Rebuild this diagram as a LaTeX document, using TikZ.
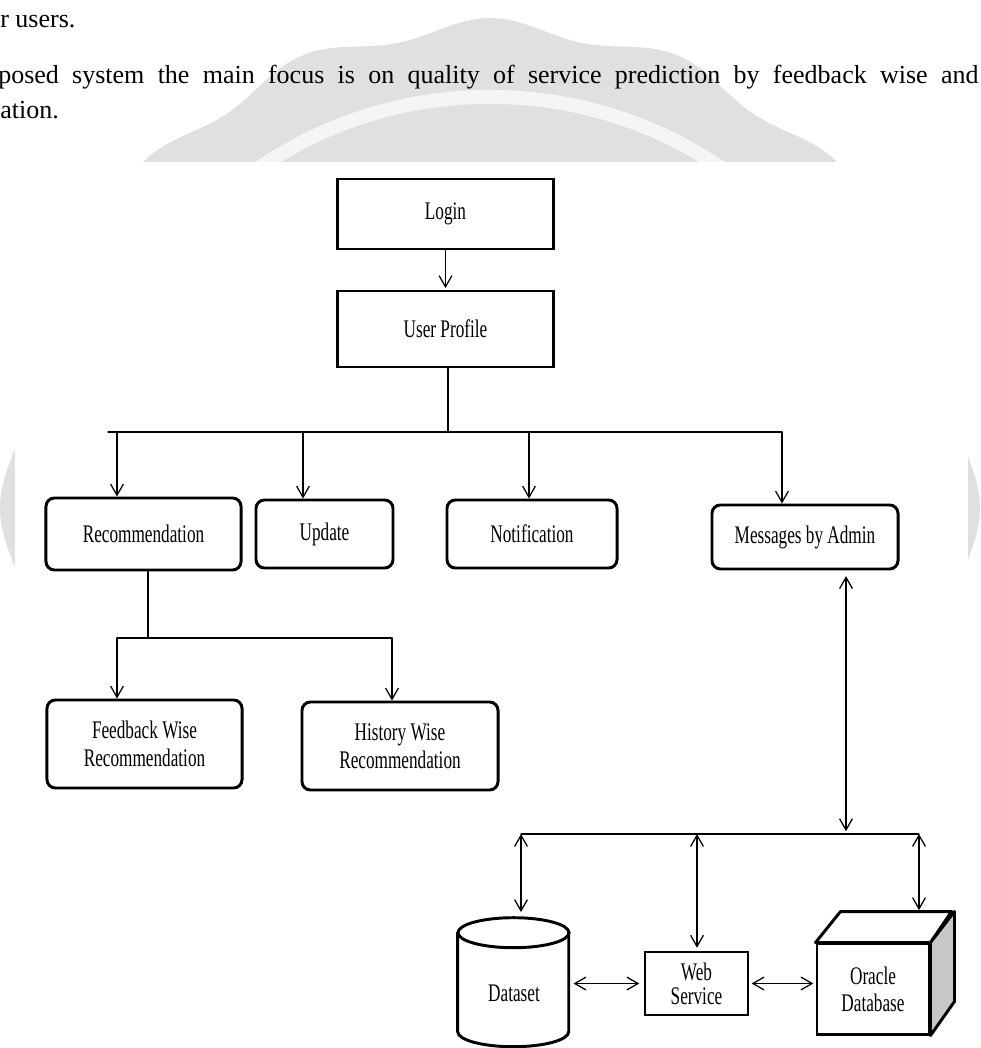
\documentclass[tikz,border=0pt]{standalone}
\usepackage{fontspec}
\setmainfont{Liberation Serif}
\newfontfamily\narrowserif[FakeStretch=0.68]{Liberation Serif}
\usepackage{tikz}
\usetikzlibrary{arrows.meta}
\usepackage{xcolor}
\definecolor{wmgray}{gray}{0.88}
\definecolor{wmring}{gray}{0.96}
\definecolor{cubeside}{gray}{0.78}

\begin{document}
\begin{tikzpicture}[x=0.025cm,y=-0.025cm,>={Straight Barb[length=2.8mm,width=3.2mm]},line cap=round,
  plain/.style={draw,line width=2.1pt,inner sep=0pt,align=center,font=\narrowserif\fontsize{18}{20}\selectfont},
  rbox/.style={plain,rounded corners=6pt},
  link/.style={line width=0.9pt},
  para/.style={anchor=base west,inner sep=0pt,font=\fontsize{18.5}{22}\selectfont}]
\useasboundingbox (0,0) rectangle (981,1048);
\clip (0,0) rectangle (981,1048);
% watermark behind the page
\fill[wmgray] plot[domain=0:360,samples=361] ({490+(482+8*cos(16*\x))*cos(\x)},{508+(482+8*cos(16*\x))*sin(\x)}) -- cycle;
\fill[wmring] (490,508) circle[radius=10.45cm];
\fill[wmgray] (490,508) circle[radius=10.1cm];
\fill[white] (15,162) rectangle (968,1048);
% text of the page
\node[para] (lineA) at (0,27) {r users.};
\node[para] (lineB) at (-2,83) {\makebox[24.5cm][s]{posed system the main focus is on quality of service prediction by feedback wise and}};
\node[para] (lineC) at (0,118) {ation.};

% boxes
\node[plain,minimum width=5.375cm,minimum height=1.75cm] (login) at (445.5,214) {Login};
\node[plain,minimum width=5.375cm,minimum height=1.9cm] (profile) at (445.5,329) {User Profile};
\node[rbox,minimum width=4.875cm,minimum height=1.8cm] (reco) at (143.5,534) {Recommendation};
\node[rbox,minimum width=3.425cm,minimum height=1.7cm] (update) at (324.5,534) {Update};
\node[rbox,minimum width=4.25cm,minimum height=1.7cm] (notif) at (532,534) {Notification};
\node[rbox,minimum width=4.65cm,minimum height=1.6cm] (admin) at (805,537) {Messages by Admin};
\node[rbox,minimum width=4.875cm,minimum height=2.2cm] (feedback) at (144.5,744) {Feedback Wise\\Recommendation};
\node[rbox,minimum width=4.9cm,minimum height=2.2cm] (history) at (400,746) {History Wise\\Recommendation};
\node[plain,minimum width=2.575cm,minimum height=1.575cm,font=\narrowserif\fontsize{18}{17}\selectfont] (web) at (696.5,983.5) {Web\\Service};

% oracle cube
\node[plain,minimum width=2.8cm,minimum height=2.25cm,font=\narrowserif\fontsize{18}{19}\selectfont] (oracle) at (873,989) {Oracle\\Database};
\coordinate (oback) at ([shift={(25,-31)}]oracle.north west);
\filldraw[fill=white,line width=2.1pt,line join=round] (oracle.north west) -- (oback) -- ++(111,0) -- (oracle.north east) -- cycle;
\filldraw[fill=cubeside,line width=2.1pt,line join=round] (oracle.north east) -- ++(24,-31) -- ++(0,90) -- (oracle.south east) -- cycle;

% dataset cylinder
\node[inner sep=0pt,minimum width=2.775cm,minimum height=3.225cm] (dataset) at (513.5,982.5) {};
\draw[line width=2.1pt,fill=white] (dataset.north west) ++(0,15) -- ++(0,99)
  arc[start angle=180,end angle=360,x radius=1.3875cm,y radius=0.375cm] -- ++(0,-99);
\draw[line width=2.1pt] (dataset.north) ++(0,15) ellipse[x radius=1.3875cm,y radius=0.375cm];
\node[font=\narrowserif\fontsize{18}{20}\selectfont,inner sep=0pt] (dslabel) at (514,993) {Dataset};

% connectors
\draw[link,->,shorten >=1pt] (login) -- (profile);
\coordinate (hub) at (448,432);
\coordinate (busW) at (108,432);
\coordinate (busE) at (782,432);
\draw[link] (hub |- profile.south) -- (hub);
\draw[link] (busW) -- (busE);
\foreach \x/\n in {117/reco,303/update,529/notif,782/admin}{
  \coordinate (t\n) at (\x,432);
  \draw[link,->] (t\n) -- (t\n |- \n.north);
}
\coordinate (split) at (148,638);
\coordinate (splitW) at (117,638);
\coordinate (splitE) at (392,638);
\draw[link] (split |- reco.south) -- (split);
\draw[link] (splitW) -- (splitE);
\draw[link,->] (splitW) -- (splitW |- feedback.north);
\draw[link,->] (splitE) -- (splitE |- history.north);

\coordinate (lowhub) at (846,834);
\coordinate (lowW) at (521,834);
\coordinate (lowM) at (697,834);
\coordinate (lowE) at (919,834);
\draw[link,<->,shorten <=4pt,shorten >=2pt] (lowhub |- admin.south) -- (lowhub);
\draw[link] (lowW) -- (lowE);
\draw[link,<->,shorten >=4pt] (lowW) -- (lowW |- dataset.north);
\draw[link,<->,shorten >=2pt] (lowM) -- (lowM |- web.north);
\draw[link,<->,shorten >=1pt] (lowE) -- (lowE |- oback);
\draw[link,<->,shorten <=3pt,shorten >=3pt] (dataset.east |- web.west) -- (web.west);
\draw[link,<->,shorten <=1.5pt,shorten >=1.5pt] (web.east) -- (oracle.west |- web.east);
\end{tikzpicture}
\end{document}
